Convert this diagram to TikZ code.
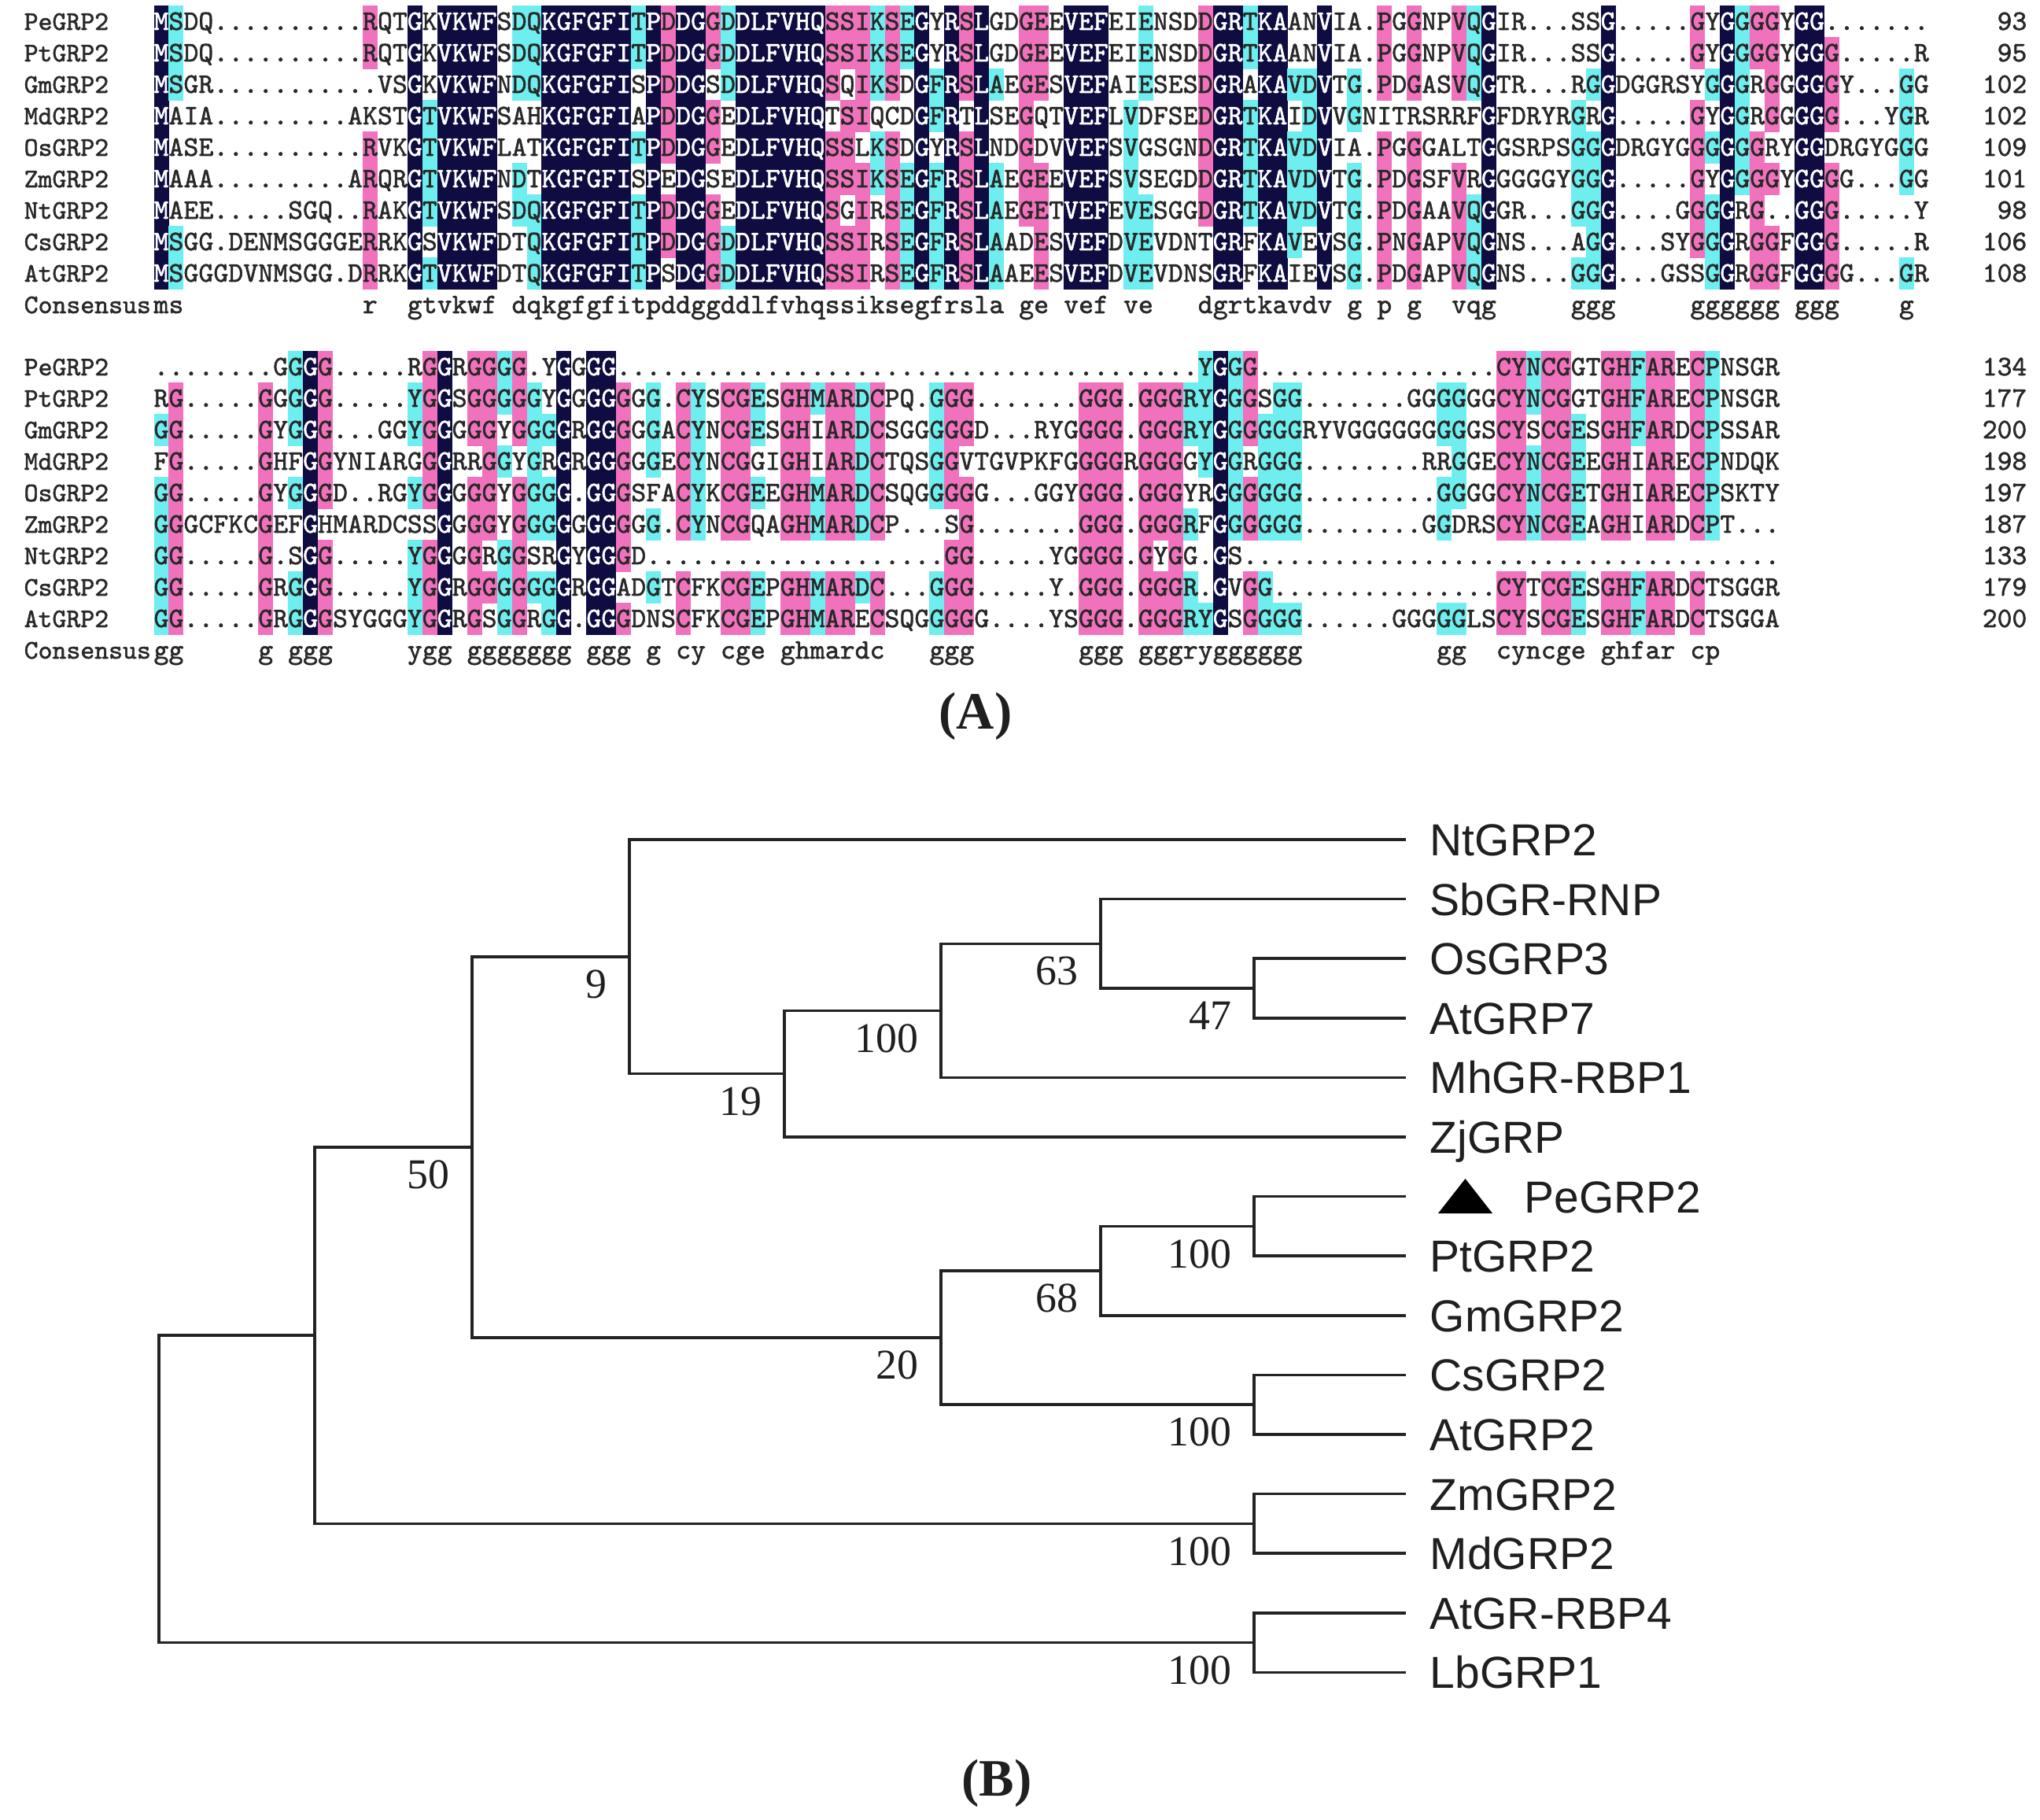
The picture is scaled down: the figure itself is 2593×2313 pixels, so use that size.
\documentclass[tikz,border=0pt]{standalone}
\usepackage{fontspec}
\setmainfont{Liberation Serif}
\setsansfont{Liberation Sans}
\newfontfamily\alnmono{Latin Modern Mono}[AutoFakeBold=1.6]

\definecolor{alnnavy}{RGB}{14,12,64}
\definecolor{alnpink}{RGB}{240,114,188}
\definecolor{alncyan}{RGB}{110,238,238}
\definecolor{alntext}{RGB}{40,40,40}
\definecolor{treeline}{RGB}{35,35,35}

\tikzset{
  res/.style={font=\fontsize{10.2}{12}\selectfont\alnmono\bfseries, anchor=base, inner sep=0pt, text=alntext},
  resdark/.style={res, text=white},
  seqname/.style={font=\fontsize{9.7}{12}\selectfont\alnmono\bfseries, anchor=base west, inner sep=0pt, text=alntext},
  seqnum/.style={res, anchor=base east},
  leaf/.style={font=\fontsize{16.2}{19}\selectfont\sffamily, anchor=west, inner xsep=0.32cm, inner ysep=0pt, text height=0.41cm, text depth=0pt, text=black!88},
  boot/.style={font=\fontsize{15.3}{18}\selectfont, anchor=east, inner sep=0pt, text=black!88},
  branch/.style={draw=treeline, line width=0.035cm, line cap=rect},
  panel/.style={font=\fontsize{19}{22}\selectfont\bfseries, inner sep=0pt, text=black!88},
}

\ExplSyntaxOn
\seq_new:N \g_aln_rows_seq
\seq_new:N \l_aln_col_seq
\int_new:N \l_aln_cnt_int
\int_new:N \l_aln_best_int
\tl_new:N \l_aln_best_tl
\tl_new:N \l_aln_fill_tl
\tl_new:N \l_aln_style_tl
\fp_new:N \l_aln_x_fp

\cs_new:Npn \gaps #1 { \prg_replicate:nn {#1} { . } }

% one residue: char, y, number of identical residues in its column
\cs_new_protected:Npn \aln_cell:nnn #1#2#3
  {
    \tl_clear:N \l_aln_fill_tl
    \tl_set:Nn \l_aln_style_tl { res }
    \int_compare:nNnTF {#3} = {9}
      { \tl_set:Nn \l_aln_fill_tl { alnnavy } \tl_set:Nn \l_aln_style_tl { resdark } }
      {
        \int_compare:nNnTF {#3} > {6}
          { \tl_set:Nn \l_aln_fill_tl { alnpink } }
          { \int_compare:nNnT {#3} > {4} { \tl_set:Nn \l_aln_fill_tl { alncyan } } }
      }
    \tl_if_empty:NF \l_aln_fill_tl
      {
        \use:e
          {
            \exp_not:N \fill [ \l_aln_fill_tl ]
              ( \fp_eval:n { \l_aln_x_fp - 9.5 } , \fp_eval:n { #2 - 20.5 } )
              ~ rectangle ~
              ( \fp_eval:n { \l_aln_x_fp + 9.5 } , \fp_eval:n { #2 + 20.5 } ) ;
          }
      }
    \use:e
      {
        \exp_not:N \node [ \l_aln_style_tl ] ~ at ~
          ( \fp_use:N \l_aln_x_fp , \fp_eval:n { #2 + 10 } ) { #1 } ;
      }
  }

% one column: index, y of first row, y of consensus row
\cs_new_protected:Npn \aln_column:nnn #1#2#3
  {
    \seq_clear:N \l_aln_col_seq
    \seq_map_inline:Nn \g_aln_rows_seq
      { \seq_put_right:Nx \l_aln_col_seq { \str_item:nn {##1} {#1} } }
    \fp_set:Nn \l_aln_x_fp { 205 + (#1 - 1) * 18.96 }
    \int_zero:N \l_aln_best_int
    \tl_clear:N \l_aln_best_tl
    \seq_map_indexed_inline:Nn \l_aln_col_seq
      {
        \int_zero:N \l_aln_cnt_int
        \str_if_eq:nnF {##2} {.}
          {
            \seq_map_inline:Nn \l_aln_col_seq
              { \str_if_eq:nnT {##2} {####1} { \int_incr:N \l_aln_cnt_int } }
          }
        \int_compare:nNnT { \l_aln_cnt_int } > { \l_aln_best_int }
          {
            \int_set_eq:NN \l_aln_best_int \l_aln_cnt_int
            \tl_set:Nn \l_aln_best_tl {##2}
          }
        \aln_cell:nnn {##2} { #2 + (##1 - 1) * 40 } { \l_aln_cnt_int }
      }
    \int_compare:nNnT { \l_aln_best_int } > { 4 }
      {
        \use:e
          {
            \exp_not:N \node [ res ] ~ at ~
              ( \fp_use:N \l_aln_x_fp , \fp_eval:n { #3 + 10 } )
              { \text_lowercase:n { \l_aln_best_tl } } ;
          }
      }
  }

\NewDocumentCommand \alnrow { m m m m }
  {
    \seq_gput_right:Nx \g_aln_rows_seq { #3 }
    \node [ seqname ] ~ at ~ ( 30 , #1 + 10 ) { #2 } ;
    \node [ seqnum ] ~ at ~ ( 2577 , #1 + 10 ) { #4 } ;
  }

\NewDocumentCommand \alnblock { m m }
  {
    \tl_set:Nx \l_tmpa_tl { \seq_item:Nn \g_aln_rows_seq { 1 } }
    \int_step_inline:nn { \str_count:N \l_tmpa_tl }
      { \aln_column:nnn { ##1 } { #1 } { #2 } }
    \seq_gclear:N \g_aln_rows_seq
    \node [ seqname ] ~ at ~ ( 30 , #2 + 10 ) { Consensus } ;
  }
\ExplSyntaxOff

\begin{document}
\begin{tikzpicture}[x=0.01cm, y=-0.01cm]
  \useasboundingbox (0,0) rectangle (2593,2313);
  \fill[white] (0,0) rectangle (2593,2313);

  % アラインメント 1段目
  \alnrow{28}{PeGRP2}{MSDQ\gaps{10}RQTGKVKWFSDQKGFGFITPDDGGDDLFVHQSSIKSEGYRSLGDGEEVEFEIENSDDGRTKAANVIA.PGGNPVQGIR\gaps{3}SSG\gaps{5}GYGGGGYGG\gaps{7}}{93}
  \alnrow{68}{PtGRP2}{MSDQ\gaps{10}RQTGKVKWFSDQKGFGFITPDDGGDDLFVHQSSIKSEGYRSLGDGEEVEFEIENSDDGRTKAANVIA.PGGNPVQGIR\gaps{3}SSG\gaps{5}GYGGGGYGGG\gaps{5}R}{95}
  \alnrow{108}{GmGRP2}{MSGR\gaps{11}VSGKVKWFNDQKGFGFISPDDGSDDLFVHQSQIKSDGFRSLAEGESVEFAIESESDGRAKAVDVTG.PDGASVQGTR\gaps{3}RGGDGGRSYGGGRGGGGGY\gaps{3}GG}{102}
  \alnrow{148}{MdGRP2}{MAIA\gaps{9}AKSTGTVKWFSAHKGFGFIAPDDGGEDLFVHQTSIQCDGFRTLSEGQTVEFLVDFSEDGRTKAIDVVGNITRSRRFGFDRYRGRG\gaps{5}GYGGRGGGGG\gaps{3}YGR}{102}
  \alnrow{188}{OsGRP2}{MASE\gaps{10}RVKGTVKWFLATKGFGFITPDDGGEDLFVHQSSLKSDGYRSLNDGDVVEFSVGSGNDGRTKAVDVIA.PGGGALTGGSRPSGGGDRGYGGGGGGRYGGDRGYGGG}{109}
  \alnrow{228}{ZmGRP2}{MAAA\gaps{9}ARQRGTVKWFNDTKGFGFISPEDGSEDLFVHQSSIKSEGFRSLAEGEEVEFSVSEGDDGRTKAVDVTG.PDGSFVRGGGGGYGGG\gaps{5}GYGGGGYGGGG\gaps{3}GG}{101}
  \alnrow{268}{NtGRP2}{MAEE\gaps{5}SGQ\gaps{2}RAKGTVKWFSDQKGFGFITPDDGGEDLFVHQSGIRSEGFRSLAEGETVEFEVESGGDGRTKAVDVTG.PDGAAVQGGR\gaps{3}GGG\gaps{4}GGGGRG\gaps{2}GGG\gaps{5}Y}{98}
  \alnrow{308}{CsGRP2}{MSGG.DENMSGGGERRKGSVKWFDTQKGFGFITPDDGGDDLFVHQSSIRSEGFRSLAADESVEFDVEVDNTGRFKAVEVSG.PNGAPVQGNS\gaps{3}AGG\gaps{3}SYGGGRGGFGGG\gaps{5}R}{106}
  \alnrow{348}{AtGRP2}{MSGGGDVNMSGG.DRRKGTVKWFDTQKGFGFITPSDGGDDLFVHQSSIRSEGFRSLAAEESVEFDVEVDNSGRFKAIEVSG.PDGAPVQGNS\gaps{3}GGG\gaps{3}GSSGGRGGFGGGG\gaps{3}GR}{108}
  \alnblock{28}{388}

  % アラインメント 2段目
  \alnrow{467}{PeGRP2}{\gaps{8}GGGG\gaps{5}RGGRGGGG.YGGGG\gaps{39}YGGG\gaps{16}CYNCGGTGHFARECPNSGR}{134}
  \alnrow{507}{PtGRP2}{RG\gaps{5}GGGGG\gaps{5}YGGSGGGGGYGGGGGGG.CYSCGESGHMARDCPQ.GGG\gaps{7}GGG.GGGRYGGGSGG\gaps{7}GGGGGGCYNCGGTGHFARECPNSGR}{177}
  \alnrow{547}{GmGRP2}{GG\gaps{5}GYGGG\gaps{3}GGYGGGGGYGGGGRGGGGGACYNCGESGHIARDCSGGGGGD\gaps{3}RYGGGG.GGGRYGGGGGGRYVGGGGGGGGGSCYSCGESGHFARDCPSSAR}{200}
  \alnrow{587}{MdGRP2}{FG\gaps{5}GHFGGYNIARGGGRRGGYGRGRGGGGGECYNCGGIGHIARDCTQSGGVTGVPKFGGGGRGGGGYGGRGGG\gaps{8}RRGGECYNCGEEGHIARECPNDQK}{198}
  \alnrow{627}{OsGRP2}{GG\gaps{5}GYGGGD\gaps{2}RGYGGGGGYGGGG.GGGSFACYKCGEEGHMARDCSQGGGGG\gaps{3}GGYGGG.GGGYRGGGGGG\gaps{9}GGGGCYNCGETGHIARECPSKTY}{197}
  \alnrow{667}{ZmGRP2}{GGGCFKCGEFGHMARDCSSGGGGYGGGGGGGGGG.CYNCGQAGHMARDCP\gaps{3}SG\gaps{7}GGG.GGGRFGGGGGG\gaps{8}GGDRSCYNCGEAGHIARDCPT\gaps{3}}{187}
  \alnrow{707}{NtGRP2}{GG\gaps{5}G.SGG\gaps{5}YGGGGRGGSRGYGGGD\gaps{20}GG\gaps{5}YGGGG.GYGG.GS\gaps{36}}{133}
  \alnrow{747}{CsGRP2}{GG\gaps{5}GRGGG\gaps{5}YGGRGGGGGGGRGGADGTCFKCGEPGHMARDC\gaps{3}GGG\gaps{5}Y.GGG.GGGR.GVGG\gaps{15}CYTCGESGHFARDCTSGGR}{179}
  \alnrow{787}{AtGRP2}{GG\gaps{5}GRGGGSYGGGYGGRGSGGRGG.GGGDNSCFKCGEPGHMARECSQGGGGG\gaps{4}YSGGG.GGGRYGSGGGG\gaps{6}GGGGGLSCYSCGESGHFARDCTSGGA}{200}
  \alnblock{467}{827}

  \node[panel] (labelA) at (1240,910) {(A)};

  % 系統樹の葉
  \node[leaf] (NtGRP2) at (1785,1067) {NtGRP2};
  \node[leaf] (SbGRRNP) at (1785,1142.6) {SbGR-RNP};
  \node[leaf] (OsGRP3) at (1785,1218.2) {OsGRP3};
  \node[leaf] (AtGRP7) at (1785,1293.8) {AtGRP7};
  \node[leaf] (MhGRRBP1) at (1785,1369.4) {MhGR-RBP1};
  \node[leaf] (ZjGRP) at (1785,1445) {ZjGRP};
  \node[leaf, inner xsep=1.52cm] (PeGRP2) at (1785,1520.6) {PeGRP2};
  \node[leaf] (PtGRP2) at (1785,1596.2) {PtGRP2};
  \node[leaf] (GmGRP2) at (1785,1671.8) {GmGRP2};
  \node[leaf] (CsGRP2) at (1785,1747.4) {CsGRP2};
  \node[leaf] (AtGRP2) at (1785,1823) {AtGRP2};
  \node[leaf] (ZmGRP2) at (1785,1898.6) {ZmGRP2};
  \node[leaf] (MdGRP2) at (1785,1974.2) {MdGRP2};
  \node[leaf] (AtGRRBP4) at (1785,2049.8) {AtGR-RBP4};
  \node[leaf] (LbGRP1) at (1785,2125.4) {LbGRP1};
  % PeGRP2 の印
  \fill[black] (1828,1542) -- (1897,1542) -- (1862.5,1498) -- cycle;

  % 内部ノード
  \coordinate (n47) at (1594,1256);
  \coordinate (n63) at (1399,1199.3);
  \coordinate (n100a) at (1196,1284.4);
  \coordinate (n19) at (997,1364.7);
  \coordinate (n9) at (800,1215.9);
  \coordinate (n100b) at (1594,1558.4);
  \coordinate (n68) at (1399,1615.1);
  \coordinate (n100c) at (1594,1785.2);
  \coordinate (n20) at (1196,1700.2);
  \coordinate (n50) at (600,1458);
  \coordinate (n100d) at (1594,1936.4);
  \coordinate (nB) at (400,1697.2);
  \coordinate (n100e) at (1594,2087.6);
  \coordinate (root) at (202,1892.4);

  % 枝
  \draw[branch] (n47) |- (OsGRP3.west);
  \draw[branch] (n47) |- (AtGRP7.west);
  \draw[branch] (n63) |- (SbGRRNP.west);
  \draw[branch] (n63) |- (n47);
  \draw[branch] (n100a) |- (n63);
  \draw[branch] (n100a) |- (MhGRRBP1.west);
  \draw[branch] (n19) |- (n100a);
  \draw[branch] (n19) |- (ZjGRP.west);
  \draw[branch] (n9) |- (NtGRP2.west);
  \draw[branch] (n9) |- (n19);
  \draw[branch] (n100b) |- (PeGRP2.west);
  \draw[branch] (n100b) |- (PtGRP2.west);
  \draw[branch] (n68) |- (n100b);
  \draw[branch] (n68) |- (GmGRP2.west);
  \draw[branch] (n100c) |- (CsGRP2.west);
  \draw[branch] (n100c) |- (AtGRP2.west);
  \draw[branch] (n20) |- (n68);
  \draw[branch] (n20) |- (n100c);
  \draw[branch] (n50) |- (n9);
  \draw[branch] (n50) |- (n20);
  \draw[branch] (n100d) |- (ZmGRP2.west);
  \draw[branch] (n100d) |- (MdGRP2.west);
  \draw[branch] (nB) |- (n50);
  \draw[branch] (nB) |- (n100d);
  \draw[branch] (n100e) |- (AtGRRBP4.west);
  \draw[branch] (n100e) |- (LbGRP1.west);
  \draw[branch] (root) |- (nB);
  \draw[branch] (root) |- (n100e);

  % ブートストラップ値
  \node[boot] at ([xshift=-0.28cm,yshift=-0.35cm]n47) {47};
  \node[boot] at ([xshift=-0.28cm,yshift=-0.35cm]n63) {63};
  \node[boot] at ([xshift=-0.28cm,yshift=-0.35cm]n100a) {100};
  \node[boot] at ([xshift=-0.28cm,yshift=-0.35cm]n19) {19};
  \node[boot] at ([xshift=-0.28cm,yshift=-0.35cm]n9) {9};
  \node[boot] at ([xshift=-0.28cm,yshift=-0.35cm]n100b) {100};
  \node[boot] at ([xshift=-0.28cm,yshift=-0.35cm]n68) {68};
  \node[boot] at ([xshift=-0.28cm,yshift=-0.35cm]n100c) {100};
  \node[boot] at ([xshift=-0.28cm,yshift=-0.35cm]n20) {20};
  \node[boot] at ([xshift=-0.28cm,yshift=-0.35cm]n50) {50};
  \node[boot] at ([xshift=-0.28cm,yshift=-0.35cm]n100d) {100};
  \node[boot] at ([xshift=-0.28cm,yshift=-0.35cm]n100e) {100};

  \node[panel] (labelB) at (1267,2266) {(B)};
\end{tikzpicture}
\end{document}
